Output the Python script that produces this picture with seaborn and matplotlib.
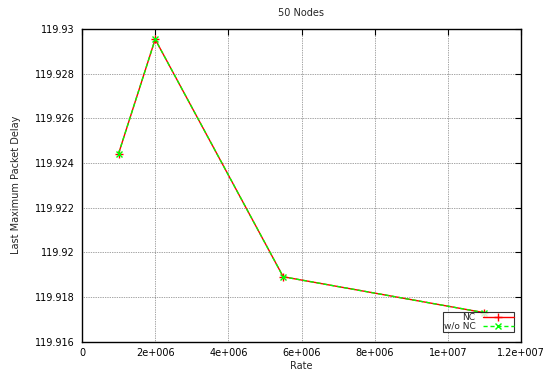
import matplotlib
matplotlib.use("Agg")
import matplotlib.pyplot as plt
import seaborn as sns
import pandas as pd

# Data
rates = [1e6, 2e6, 5.5e6, 1.1e7]
delay_nc = [119.92442, 119.92954, 119.91890, 119.91729]
delay_wo_nc = [119.92442, 119.92954, 119.91890, 119.91729]
series_names = ["NC", "w/o NC"]

x_ticks = [0, 2e6, 4e6, 6e6, 8e6, 1e7, 1.2e7]
x_tick_labels = ["0", "2e+006", "4e+006", "6e+006", "8e+006", "1e+007", "1.2e+007"]
y_ticks = [119.916, 119.918, 119.92, 119.922, 119.924, 119.926, 119.928, 119.93]
y_tick_labels = ["119.916", "119.918", "119.92", "119.922", "119.924", "119.926", "119.928", "119.93"]

sns.set_style("white")
plt.rcParams["font.family"] = ["DejaVu Sans"]

fig = plt.figure(figsize=(5.44, 3.70), dpi=100)
ax = fig.add_axes([82 / 544, 1 - 341.5 / 370, (521 - 82) / 544, (341.5 - 29) / 370])

df_nc = pd.DataFrame({"Rate": rates, "Delay": delay_nc})
df_wo = pd.DataFrame({"Rate": rates, "Delay": delay_wo_nc})

sns.lineplot(data=df_nc, x="Rate", y="Delay", ax=ax, color="#ff0000",
             linewidth=1.0, marker="+", markersize=6, markeredgewidth=1.0,
             markeredgecolor="#ff0000", label=series_names[0])
sns.lineplot(data=df_wo, x="Rate", y="Delay", ax=ax, color="#00ff00",
             linewidth=1.0, linestyle=(0, (3, 2)), marker="x", markersize=4.5,
             markeredgewidth=1.0, markeredgecolor="#00ff00",
             label=series_names[1])

ax.set_xlim(0, 1.2e7)
ax.set_ylim(119.916, 119.93)
ax.set_xticks(x_ticks)
ax.set_xticklabels(x_tick_labels)
ax.set_yticks(y_ticks)
ax.set_yticklabels(y_tick_labels)

ax.grid(True, color="black", linestyle=(0, (1, 1.5)), linewidth=0.5, alpha=0.7)
ax.tick_params(direction="in", length=4, width=0.8, labelsize=7,
               top=True, right=True, pad=5, colors="black")
for s in ax.spines.values():
    s.set_linewidth(1.0)
    s.set_color("black")

ax.set_title("50 Nodes", fontsize=7, pad=9)
ax.set_xlabel("Rate", fontsize=7, labelpad=2)
ax.set_ylabel("Last Maximum Packet Delay", fontsize=7, labelpad=10)

leg = ax.legend(loc="lower right", bbox_to_anchor=(0.985, 0.031), fontsize=6.5,
                frameon=True, fancybox=False, edgecolor="black",
                markerfirst=False, handlelength=3.4, borderpad=0.1,
                labelspacing=-0.05, handletextpad=0.8, borderaxespad=0,
                handleheight=0.6)
leg.get_frame().set_linewidth(0.8)
for col in leg._legend_handle_box.get_children():
    col.align = "right"

fig.savefig("out.png", dpi=100)
